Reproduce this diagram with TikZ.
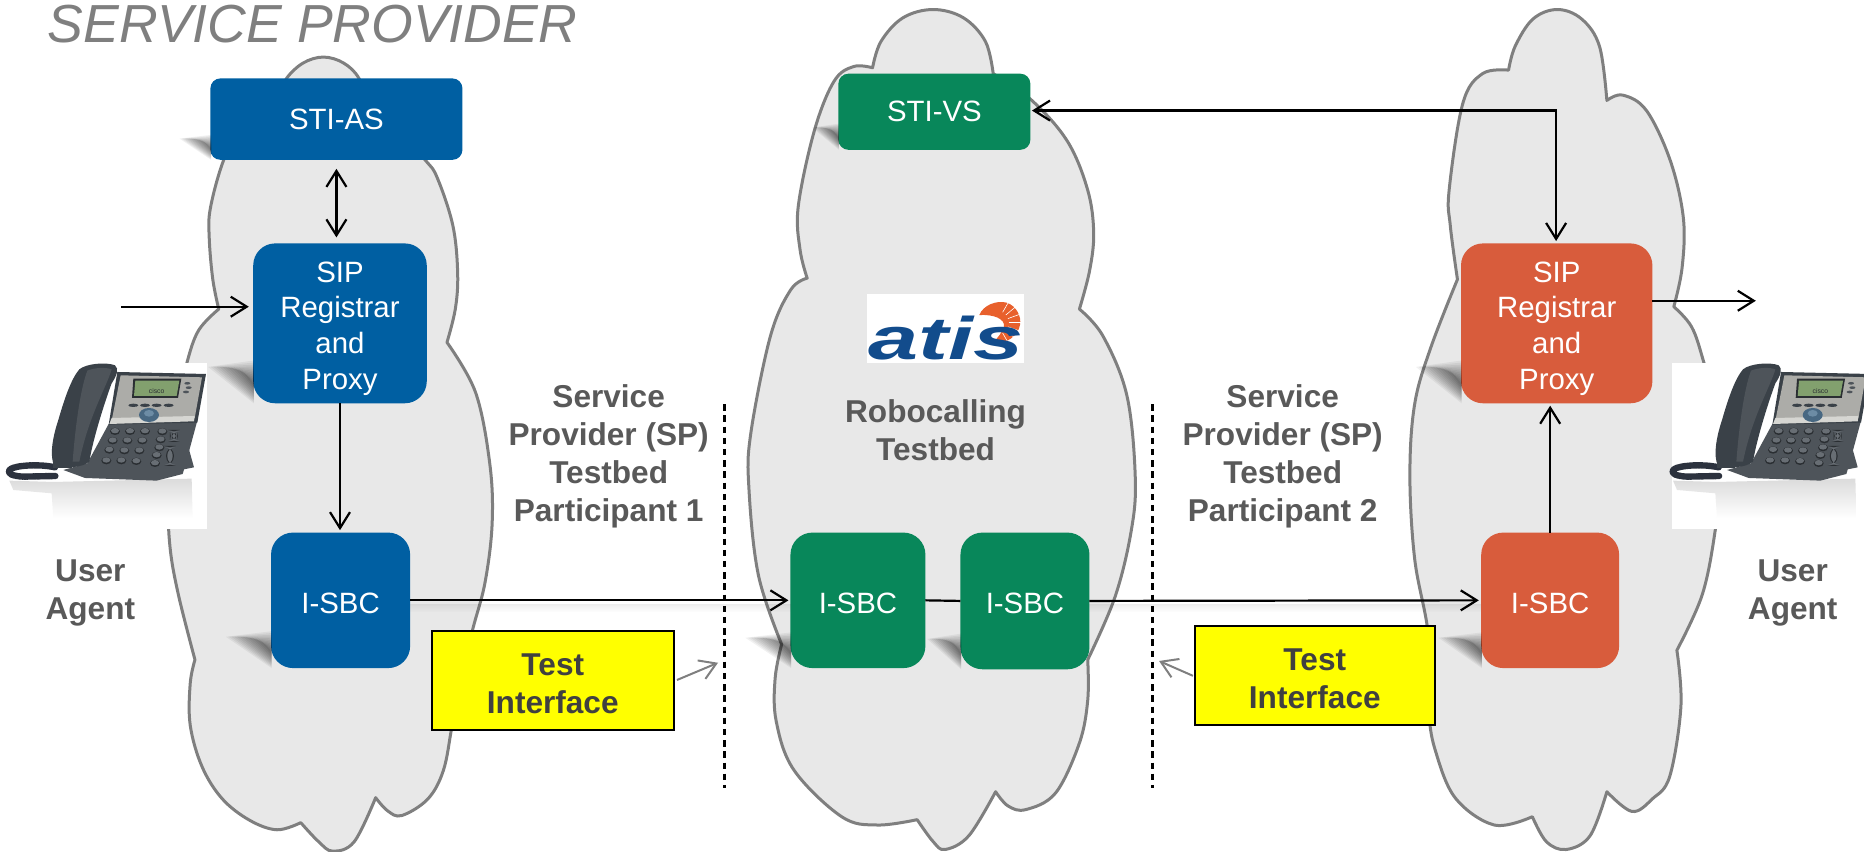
\documentclass[tikz,border=0pt]{standalone}
\usepackage{fontspec}
\usepackage{graphicx}
\setmainfont{Liberation Sans}
\usetikzlibrary{arrows.meta,calc,fadings}
\definecolor{bluebox}{RGB}{0,95,162}
\definecolor{greenbox}{RGB}{8,135,90}
\definecolor{orangebox}{RGB}{216,92,60}
\definecolor{cloudfill}{RGB}{232,232,232}
\definecolor{cloudline}{RGB}{127,127,127}
\definecolor{labelgray}{RGB}{89,89,89}
\definecolor{testtext}{RGB}{64,64,64}
\definecolor{pureyellow}{RGB}{255,255,0}
\definecolor{atisblue}{RGB}{18,76,140}
\definecolor{atisorange}{RGB}{232,96,44}
\definecolor{phdark}{RGB}{58,65,72}
\definecolor{phmid}{RGB}{78,84,90}
\definecolor{phlight}{RGB}{104,110,116}
\definecolor{phkeydk}{RGB}{42,46,50}
\definecolor{phsilver}{RGB}{172,172,168}
\definecolor{phsilverlt}{RGB}{214,214,210}
\definecolor{phscreen}{RGB}{130,160,110}
\definecolor{phnav}{RGB}{72,104,130}
\definecolor{phnavlt}{RGB}{108,140,165}
\definecolor{phcord}{RGB}{44,50,62}
\def\u{0.5945pt}
\newcommand{\dn}[1]{\rule{0pt}{#1pt}}
\tikzfading[name=shdown,top color=transparent!0,bottom color=transparent!100]
\tikzset{
  cloudshape/.style={fill=cloudfill,draw=cloudline,line width=1.5pt,line join=round},
  wh/.style 2 args={minimum width=#1*\u,minimum height=#2*\u,inner sep=0pt,outer sep=0pt},
  boxbase/.style={rectangle,text=white,align=center,font=\fontsize{14.7}{17.8}\selectfont},
  smallrad/.style={boxbase,rounded corners=5pt},
  bigrad/.style={boxbase,rounded corners=11pt},
  testbox/.style={rectangle,draw=black,line width=1pt,fill=pureyellow,text=testtext,align=center,font=\bfseries\fontsize{15.8}{19.3}\selectfont},
  graylabel/.style={text=labelgray,align=center,font=\bfseries\fontsize{15.8}{19}\selectfont,inner sep=0pt},
  conn/.style={draw=black,line width=1.1pt,>={Straight Barb[length=8pt,width=10pt]}},
  grayconn/.style={draw=cloudline,line width=1pt,->,>={Straight Barb[length=8pt,width=10pt]}},
  divider/.style={draw=black,line width=1.2pt,dash pattern=on 3.2pt off 2.4pt}
}
\newcommand{\bshadow}[3]{%
  \foreach \i in {1,...,12}{
    \fill[black,opacity=.055]
      ($(#1.south west)+(0.5,{-#3*(.42+.58*\i/12)})$) -- ($(#1.south west)+({-#2*(.25+.75*\i/12)},{-#3*.85})$) -- ($(#1.south west)+(0.5,{-#3*(.42-.42*\i/12)})$) -- cycle;
  }
}
\newcommand{\lineshadow}[3]{%
  \fill[black,opacity=.07,path fading=shdown] (#1,#3) rectangle (#2,#3+7);
}
\newcommand{\phonepic}[1]{%
  \shade[top color=black!14,bottom color=white] (28,392) -- (160,396) -- (575,386) -- (578,505) -- (160,505) -- (155,430) -- (40,420) -- cycle;
  \fill[phmid] (552,335) -- (566,295) -- (582,352) -- (552,358) -- cycle;
  \fill[phmid] (326,222) -- (592,212) -- (556,345) -- (548,372) -- (470,392) -- (255,384) -- (190,360) -- (262,340) -- cycle;
  \fill[phdark] (352,66) -- (618,72) -- (592,218) -- (326,224) -- cycle;
  \fill[phsilver] (362,76) -- (606,82) -- (584,205) -- (335,212) -- cycle;
  \fill[phsilverlt] (335,204) -- (584,198) -- (582,214) -- (328,222) -- cycle;
  \fill[phkeydk] (400,86) -- (544,86) -- (534,144) -- (396,144) -- cycle;
  \fill[phscreen] (406,92) -- (538,92) -- (530,138) -- (402,138) -- cycle;
  \node[text=phkeydk,font=\fontsize{3.4}{4}\selectfont,inner sep=0pt] (#1) at (470,122) {cisco};
  \foreach \xx/\yy in {562/100,566/113,558/126} \fill[phmid] (\xx,\yy) ellipse (9 and 4);
  \foreach \xx in {400,435,470,506} \fill[phdark] (\xx,166) ellipse (15 and 5);
  \fill[phnav] (447,195) ellipse (30 and 21);
  \fill[phnavlt] (447,190) ellipse (15 and 10);
  \foreach \xx/\yy in {345/242,390/242,435/242,338/270,382/270,427/270,328/298,373/300,418/300,319/330,364/330,409/332,487/243,482/267,478/291,470/314,465/338}{
    \fill[phkeydk] (\xx,\yy+2) ellipse (15 and 11);
    \fill[phlight] (\xx,\yy) ellipse (12 and 8);
  }
  \fill[phkeydk,rounded corners=5pt] (510,240) rectangle (534,276);
  \fill[phlight,rounded corners=4pt] (514,244) rectangle (530,272);
  \fill[phkeydk,rounded corners=5pt] (498,288) rectangle (522,348);
  \fill[phlight,rounded corners=4pt] (502,292) rectangle (518,344);
  \fill[phdark] (238,58) .. controls (260,40) and (320,36) .. (345,46) .. controls (358,56) and (350,78) .. (335,100) .. controls (320,140) and (280,260) .. (268,335) .. controls (250,352) and (195,358) .. (162,345) .. controls (150,320) and (155,270) .. (175,210) .. controls (195,140) and (215,85) .. (238,58) -- cycle;
  \fill[phmid] (262,62) .. controls (285,52) and (320,52) .. (335,58) .. controls (320,110) and (265,200) .. (238,335) -- (218,335) .. controls (225,240) and (240,120) .. (262,62) -- cycle;
  \draw[phcord,line width=3.2pt,line cap=round,dash pattern=on 1pt off .35pt] (165,352) .. controls (120,342) and (50,345) .. (30,358) .. controls (20,368) and (30,378) .. (70,380) -- (168,378);
  \fill[phdark] (160,338) rectangle (215,355);
}
\begin{document}
\begin{tikzpicture}[x=0.5945pt,y=-0.5945pt]
\useasboundingbox (0,0) rectangle (1568,715.9);
% clouds
\path[cloudshape]
  plot[smooth,tension=.6] coordinates {(310,90) (302,66) (289,53) (272,48) (255,53) (241,66) (236,80)}
  -- plot[smooth,tension=.6] coordinates {(236,80) (205,100) (188,135) (177,175) (176,200) (179,235) (184,260)}
  -- plot[smooth,tension=.6] coordinates {(184,260) (167,278) (157,306) (147,350) (142,420) (143,460) (150,500) (164,555)}
  -- plot[smooth,tension=.6] coordinates {(164,555) (160,575) (160,610) (170,645) (187,672) (210,690) (233,698) (253,692)}
  -- plot[smooth,tension=.6] coordinates {(253,692) (268,708) (280,716) (298,708) (316,671)}
  -- plot[smooth,tension=.6] coordinates {(316,671) (326,682) (338,686) (360,672) (373,648) (380,612) (385,585)}
  -- plot[smooth,tension=.6] coordinates {(385,585) (397,532) (408,490) (414,440) (412,390) (400,330) (376,288)}
  -- plot[smooth,tension=.6] coordinates {(376,288) (383,260) (385,230) (381,190) (368,150) (358,135) (330,105) (310,90)}
  -- cycle;
\path[cloudshape]
  plot[smooth,tension=.6] coordinates {(835.5,62) (829,35) (810.5,15) (785,8) (759.5,15) (741,35) (734,57)}
  -- plot[smooth,tension=.6] coordinates {(734,57) (718,56) (701.5,68.5) (685,110) (671.5,173.5) (673,210) (679,234)}
  -- plot[smooth,tension=.6] coordinates {(679,234) (665,244) (648,283) (631.5,365) (630,411) (638,484) (657.5,542)}
  -- plot[smooth,tension=.6] coordinates {(657.5,542) (652,571) (653,607) (668,648) (708,687) (738,694) (771.5,689.5)}
  -- plot[smooth,tension=.6] coordinates {(771.5,689.5) (785,708) (795,714.6) (815,703) (837.5,666)}
  -- plot[smooth,tension=.6] coordinates {(837.5,666) (848,678) (863,681) (888,667) (908,625) (915,589) (915,555)}
  -- plot[smooth,tension=.6] coordinates {(915,555) (938,502) (951.5,447) (955,402) (948,333) (928,283) (908,260)}
  -- plot[smooth,tension=.6] coordinates {(908,260) (916.5,228) (920,196) (915,160) (898,119) (868,84.5) (835.5,62)}
  -- cycle;
\path[cloudshape]
  plot[smooth,tension=.6] coordinates {(1269,59) (1274.5,39) (1289.5,16) (1310,8) (1330.5,16) (1345.5,39) (1351.7,84.5)}
  -- plot[smooth,tension=.6] coordinates {(1351.7,84.5) (1365,80) (1385,93) (1405,135) (1416,183) (1415,225) (1408,258)}
  -- plot[smooth,tension=.6] coordinates {(1408,258) (1423,275) (1433,304) (1445,350) (1447,400) (1443,445) (1432,500) (1410.6,547)}
  -- plot[smooth,tension=.6] coordinates {(1410.6,547) (1414,594) (1404.6,653) (1390,672) (1372.8,682.6) (1351.7,666)}
  -- plot[smooth,tension=.6] coordinates {(1351.7,666) (1337.6,703) (1317.5,714.6) (1300.8,708) (1289,687)}
  -- plot[smooth,tension=.6] coordinates {(1289,687) (1257,694) (1224,671) (1207,630) (1202,600) (1203,580)}
  -- plot[smooth,tension=.6] coordinates {(1203,580) (1201,530) (1190,470) (1186,400) (1190,340) (1203.7,292) (1226,235)}
  -- plot[smooth,tension=.6] coordinates {(1226,235) (1220,190) (1219,160) (1230.5,87) (1247,62) (1269,59)}
  -- cycle;
% phones
\fill[white] (0,305.5) rectangle (174.5,445);
\fill[white] (1406.5,305.5) rectangle (1568,445);
\begin{scope}[shift={(0,294.4)},scale=0.2804]
  \phonepic{ciscoa}
\end{scope}
\begin{scope}[shift={(1399.5,294.4)},scale=0.2804]
  \phonepic{ciscob}
\end{scope}
% title
\node[anchor=base west,text=cloudline,font=\itshape\fontsize{26.8}{30}\selectfont,inner sep=0pt] (title) at (40,36) {SERVICE PROVIDER};
% boxes
\node[smallrad,wh={212}{68.5},fill=bluebox] (stias) at (283,100.2) {STI-AS};
\node[bigrad,wh={146}{134.5},fill=bluebox] (sipa) at (286,272) {\dn{15.5}SIP\\Registrar\\and\\Proxy};
\node[bigrad,wh={117}{114},fill=bluebox] (sbca) at (286.5,505) {\dn{13}I-SBC};
\node[smallrad,wh={161.5}{64},fill=greenbox] (stivs) at (786,94) {STI-VS};
\node[bigrad,wh={113.5}{114},fill=greenbox] (sbcb) at (721.7,505) {\dn{13}I-SBC};
\node[bigrad,wh={108.5}{115},fill=greenbox] (sbcc) at (862.2,505.5) {\dn{13}I-SBC};
\node[bigrad,wh={161}{134.5},fill=orangebox] (sipb) at (1309.5,272) {\dn{15.5}SIP\\Registrar\\and\\Proxy};
\node[bigrad,wh={116}{114},fill=orangebox] (sbcd) at (1304,505) {\dn{13}I-SBC};
\node[testbox,wh={204}{83}] (testa) at (465,572.5) {\dn{14}Test\\Interface};
\node[testbox,wh={202}{83}] (testb) at (1106,568.5) {\dn{14}Test\\Interface};
% coordinates for free ends
\coordinate (inleft) at (102,258);
\coordinate (outright) at (1477,253);
\coordinate (turn) at (1309,93);
\coordinate (grayendA) at (604,557.5);
\coordinate (grayendB) at (975,556);
\coordinate (graystartA) at (569.5,572);
\coordinate (graystartB) at (1003.5,568.5);
\coordinate (divAtop) at (609.5,340);
\coordinate (divAbot) at (609.5,663);
\coordinate (divBtop) at (969.5,340);
\coordinate (divBbot) at (969.5,663);
% shadows
\bshadow{stias}{26}{21}
\bshadow{sipa}{38}{36}
\bshadow{sbca}{38}{31}
\bshadow{stivs}{22}{22}
\bshadow{sbcb}{38}{30}
\bshadow{sbcc}{28}{30}
\bshadow{sipb}{38}{36}
\bshadow{sbcd}{36}{30}
\lineshadow{345}{665}{508}
\lineshadow{916}{1246}{508}
% dividers
\draw[divider] (divAtop) -- (divAbot);
\draw[divider] (divBtop) -- (divBbot);
% connectors
\draw[conn,<->,shorten <=4.5pt,shorten >=3pt] (stias.south) -- (stias.south |- sipa.north);
\draw[conn,->,shorten >=2.2pt] (inleft) -- (inleft -| sipa.west);
\draw[conn,->,shorten >=1.2pt] (sipa.south) -- (sipa.south |- sbca.north);
\draw[conn,->,shorten >=1pt] (sbca.east) -- (sbcb.west);
\draw[conn] (sbcb.east) -- (sbcc.west);
\draw[conn,->,shorten >=1.2pt] (sbcc.east) -- (sbcd.west);
\draw[conn,->,shorten >=1.2pt] (sbcd.north) -- (sbcd.north |- sipb.south);
\draw[conn,->] (sipb.east |- outright) -- (outright);
\draw[conn,<->,shorten <=.8pt,shorten >=1.2pt] (stivs.east |- turn) -- (turn) -- (turn |- sipb.north);
\draw[grayconn] (graystartA) -- (grayendA);
\draw[grayconn] (graystartB) -- (grayendB);
% labels
\node[graylabel] (labA) at (512,384) {Service\\Provider (SP)\\Testbed\\Participant 1};
\node[graylabel] (labB) at (1079,384) {Service\\Provider (SP)\\Testbed\\Participant 2};
\node[graylabel] (labC) at (787,362) {Robocalling\\Testbed};
\node[graylabel] (uaA) at (76,499) {User\\Agent};
\node[graylabel] (uaB) at (1508,499) {User\\Agent};
% logo
\fill[white] (729,247.5) rectangle (861,305.5);
\begin{scope}[shift={(715,235.55)},scale=0.2804]
  \fill[atisorange] (388,105) .. controls (400,75) and (440,60) .. (470,68) .. controls (500,78) and (515,110) .. (510,135) .. controls (505,165) and (470,195) .. (430,188) .. controls (445,170) and (455,160) .. (462,140) .. controls (465,115) and (430,103) .. (388,105) -- cycle;
  \foreach \a in {-60,-40,-20,0,20,40,60}
    \draw[white,line width=.3pt] (440,128) ++(\a:36) -- ++(\a:42);
  \node[text=atisblue,font=\bfseries\itshape\fontsize{30}{30}\selectfont,inner sep=0pt,anchor=base west] (atis) at (55,238) {\scalebox{1.5}[1]{atis}};
\end{scope}
\end{tikzpicture}
\end{document}
